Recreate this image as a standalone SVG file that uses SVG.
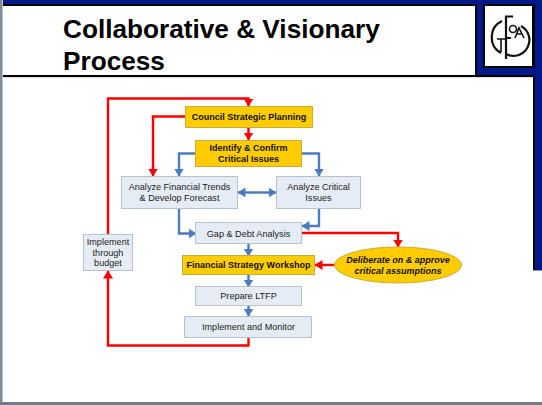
<svg xmlns="http://www.w3.org/2000/svg" width="542" height="405" viewBox="0 0 542 405">
<style>
text{font-family:"Liberation Sans",Arial,sans-serif;text-anchor:middle;fill:#1a1a1a}
.t{font-size:9.1px}
.b{font-size:9px;font-weight:700;fill:#111}
.n{fill:#e6ecf6;stroke:#b9c2cc;stroke-width:1}
.g{fill:#ffcc00;stroke:#c9ad3a;stroke-width:1}
.r{fill:none;stroke:#ff0000;stroke-width:2.4}
.bl{fill:none;stroke:#4a7cc4;stroke-width:2.4}
.h{font-size:26.2px;font-weight:700;fill:#000;text-anchor:start}
</style>
<defs>
<marker id="ar" markerUnits="userSpaceOnUse" markerWidth="9" markerHeight="11" refX="7.500" refY="5.500" orient="auto-start-reverse"><path d="M0 0.500L8 5.500L0 10.500z" fill="#ff0000"/></marker>
<marker id="ab" markerUnits="userSpaceOnUse" markerWidth="9" markerHeight="11" refX="7.500" refY="5.500" orient="auto-start-reverse"><path d="M0 0.500L8 5.500L0 10.500z" fill="#4a7cc4"/></marker>
</defs>
<rect width="542" height="405" fill="#fff"/>
<g id="frame">
<rect x="0" y="0" width="2.500" height="405" fill="#7f8b9a"/>
<rect x="0" y="402" width="542" height="3" fill="#6f7b8a"/>
<rect x="3" y="0" width="539" height="75" fill="#001a8c"/>
<rect x="535" y="70" width="7" height="200" fill="#001a8c"/>
<rect x="533" y="75" width="2" height="195" fill="#000"/>
<rect x="533" y="270" width="9" height="1" fill="#8a93a8"/>
<rect x="3" y="4" width="474" height="73" fill="#000"/>
<rect x="3" y="6" width="472" height="69" fill="#fff"/>
<rect x="3" y="75" width="532" height="2" fill="#000"/>
<rect x="3" y="77" width="530" height="1" fill="#ddd"/>
<rect x="483" y="4" width="52" height="64" fill="#000"/>
<rect x="485" y="6" width="47" height="60" fill="#fff"/>
</g>
<text class="h" x="63" y="38">Collaborative &amp; Visionary</text>
<text class="h" x="63" y="70">Process</text>
<g id="logo" fill="none" stroke="#111" stroke-width="1.600">
<path d="M502 21A18 18 0 0 0 501 53" stroke-width="2.200"/>
<path d="M521 26A15.500 15.500 0 0 1 506 54" stroke-width="2.200"/>
<path d="M506 16V59M505 16.500H513M506 38H511" stroke-width="2.200"/>
<path d="M501 39V52M497 39H506"/>
<circle cx="513" cy="29" r="3.500"/>
<path d="M515 38L519 28L524 38M516.500 34H522.500"/>
</g>
<g id="connectors">
<path class="r" marker-end="url(#ar)" d="M108 234V98.500H248.500V106"/>
<path class="r" marker-end="url(#ar)" d="M185 116.500H153V176"/>
<path class="r" marker-end="url(#ar)" d="M248.500 128V140"/>
<path class="r" marker-end="url(#ar)" d="M248.500 337V345.500H108V271"/>
<path class="r" marker-end="url(#ar)" d="M301 233H398V247"/>
<path class="r" marker-end="url(#ar)" d="M335 265H315"/>
<path class="bl" marker-end="url(#ab)" d="M196 153.500H179V176"/>
<path class="bl" marker-end="url(#ab)" d="M301 153.500H319V176"/>
<path class="bl" marker-end="url(#ab)" marker-start="url(#ab)" d="M238 192.500H276"/>
<path class="bl" marker-end="url(#ab)" d="M179 208V233.500H196"/>
<path class="bl" marker-end="url(#ab)" d="M319 208V226H302"/>
<path class="bl" marker-end="url(#ab)" d="M248.500 244V256"/>
<path class="bl" marker-end="url(#ab)" d="M248.500 275V287"/>
<path class="bl" marker-end="url(#ab)" d="M248.500 306V316"/>
</g>
<g id="council"><rect class="g" x="185.500" y="106.500" width="127" height="21"/><text class="b" x="249" y="120">Council Strategic Planning</text></g>
<g id="identify"><rect class="g" x="195.500" y="140.500" width="106" height="26"/><text class="b" x="248.500" y="151">Identify &amp; Confirm</text><text class="b" x="248.500" y="162">Critical Issues</text></g>
<g id="trends"><rect class="n" x="121.500" y="176.500" width="116" height="32"/><text class="t" x="179.500" y="190">Analyze Financial Trends</text><text class="t" x="179.500" y="201">&amp; Develop Forecast</text></g>
<g id="issues"><rect class="n" x="276.500" y="176.500" width="84" height="32"/><text class="t" x="318.500" y="190">Analyze Critical</text><text class="t" x="318.500" y="201">Issues</text></g>
<g id="gap"><rect class="n" x="195.500" y="222.500" width="106" height="21"/><text class="t" x="248.500" y="237">Gap &amp; Debt Analysis</text></g>
<g id="workshop"><rect class="g" x="182.500" y="255.500" width="132" height="19"/><text class="b" x="248.500" y="268">Financial Strategy Workshop</text></g>
<g id="ltfp"><rect class="n" x="195.500" y="286.500" width="106" height="19"/><text class="t" x="248.500" y="299">Prepare LTFP</text></g>
<g id="monitor"><rect class="n" x="184.500" y="316.500" width="127" height="21"/><text class="t" x="248.500" y="330">Implement and Monitor</text></g>
<g id="budget"><rect class="n" x="83.500" y="234.500" width="49" height="36"/><text class="t" x="108" y="245">Implement</text><text class="t" x="108" y="256">through</text><text class="t" x="108" y="266">budget</text></g>
<g id="deliberate"><ellipse cx="398" cy="265" rx="63.500" ry="18" fill="#ffcc00" stroke="#c9ad3a"/><text class="b" style="font-style:italic" x="398" y="263">Deliberate on &amp; approve</text><text class="b" style="font-style:italic" x="398" y="274">critical assumptions</text></g>
</svg>
